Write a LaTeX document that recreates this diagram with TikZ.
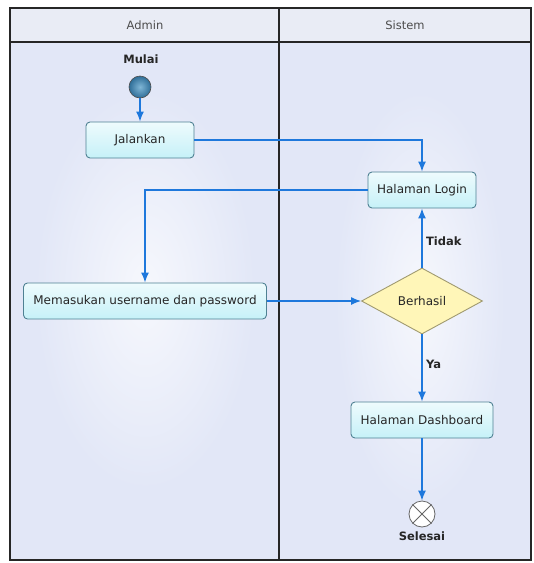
\documentclass[tikz,border=0pt]{standalone}
\usepackage{fontspec}
\setmainfont{DejaVu Sans}
\usetikzlibrary{arrows.meta,shapes.geometric}
\definecolor{lane}{HTML}{E2E7F7}
\definecolor{head}{HTML}{E9ECF5}
\definecolor{flow}{HTML}{1E78DC}
\definecolor{boxline}{HTML}{4F8193}
\definecolor{boxfill}{HTML}{C6F1F8}
\definecolor{decfill}{HTML}{FFF6B8}
\definecolor{decline}{HTML}{A09A70}
\definecolor{startin}{HTML}{7FB6D6}
\definecolor{startout}{HTML}{2F6E98}
\tikzset{
  x=1pt, y=-1pt,
  every node/.style={font=\fontsize{12}{14}\selectfont, text=black!85},
  actbox/.style={draw=boxline, line width=0.9pt, rounded corners=4pt, minimum height=36pt,
    top color=white!70!boxfill, bottom color=boxfill, inner sep=0pt},
  decbox/.style={diamond, draw=decline, line width=0.9pt, fill=decfill, aspect=1.8,
    minimum width=121pt, minimum height=66pt, inner sep=0pt},
  flowline/.style={draw=flow, line width=1.4pt, -{Latex[length=10pt,width=8pt]}},
  lbl/.style={font=\bfseries\fontsize{11.5}{13}\selectfont},
  headtxt/.style={font=\fontsize{11.5}{13}\selectfont, text=black!70},
  glow/.style={inner color=white!70!lane, outer color=lane, draw=none}
}
\begin{document}
\begin{tikzpicture}
\useasboundingbox (0,0) rectangle (534,563);
\fill[white] (0,0) rectangle (534,563);
% swimlane backgrounds
\fill[lane] (10,42) rectangle (531,560);
\shade[glow] (145,290) ellipse (110 and 200);
\shade[glow] (420,300) ellipse (85 and 210);
\fill[head] (10,8) rectangle (531,42);
% frame and lane dividers
\draw[line width=1.2pt, black!85] (10,8) rectangle (531,560);
\draw[line width=1.2pt, black!85] (10,42) -- (531,42);
\draw[line width=1.2pt, black!85] (279,8) -- (279,560);
\node[headtxt] (hadmin) at (145,25) {Admin};
\node[headtxt] (hsistem) at (405,25) {Sistem};

% nodes
\node[circle, draw=black!70, line width=0.6pt, minimum size=22pt, inner sep=0pt,
      inner color=startin, outer color=startout] (start) at (140,87) {};
\node[lbl, anchor=south] (startlbl) at (141,67) {Mulai};
\node[actbox, minimum width=108pt] (jalankan) at (140,140) {Jalankan};
\node[actbox, minimum width=108pt] (login) at (422,190) {Halaman Login};
\node[actbox, minimum width=243pt] (input) at (145,301) {Memasukan username dan password};
\node[decbox] (berhasil) at (422,301) {Berhasil};
\node[actbox, minimum width=142pt] (dash) at (422,420) {Halaman Dashboard};
\node[circle, draw=black!60, line width=0.8pt, fill=white, minimum size=26pt, inner sep=0pt] (stop) at (422,514) {};
\draw[black!60, line width=0.8pt] (stop.north west) -- (stop.south east) (stop.north east) -- (stop.south west);
\node[lbl, anchor=north] (stoplbl) at (422,528) {Selesai};

% connectors
\path[flowline] (start) -- (jalankan);
\path[flowline] (jalankan.east) -| (login.north);
\path[flowline] (login.west) -| (input.north);
\path[flowline] (input.east) -- (berhasil.west);
\path[flowline] (berhasil.north) -- node[lbl, right, pos=0.45] {Tidak} (login.south);
\path[flowline] (berhasil.south) -- node[lbl, right, pos=0.45] {Ya} (dash.north);
\path[flowline] (dash.south) -- (stop.north);
\end{tikzpicture}
\end{document}
